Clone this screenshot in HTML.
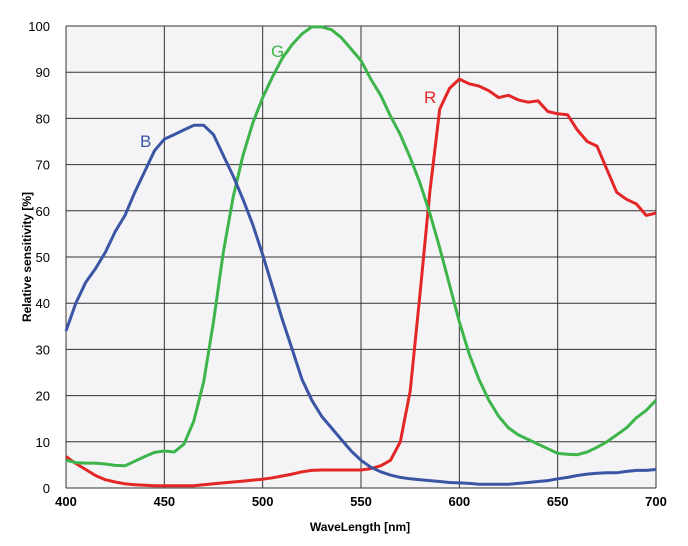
<!DOCTYPE html>
<html><head><meta charset="utf-8"><style>
body{margin:0;background:#fff;font-family:"Liberation Sans",Arial,sans-serif}
svg text{font-family:"Liberation Sans",Arial,sans-serif}
</style></head><body>
<svg id="chart" width="688" height="541" viewBox="0 0 688 541">
<rect x="66" y="26" width="590" height="462" fill="#f4f4f6"/>
<g id="grid"></g><g id="ticks"></g><g id="series"></g>
<text x="140" y="147" font-size="17" fill="#3a55a4">B</text>
<text x="271" y="57" font-size="17" fill="#3db54a">G</text>
<text x="424" y="103" font-size="17" fill="#e32626">R</text>
<text x="360" y="531" font-size="12" font-weight="bold" text-anchor="middle">WaveLength [nm]</text>
<text transform="translate(31,257) rotate(-90)" font-size="12" font-weight="bold" text-anchor="middle">Relative sensitivity [%]</text>
</svg>
<script>
const xTicks=[400,450,500,550,600,650,700];
const yTicks=[0,10,20,30,40,50,60,70,80,90,100];
const wavelengths=[];for(let w=400;w<=700;w+=5)wavelengths.push(w);
const blueValues=[34,40,44.5,47.5,51,55.5,59,64,68.5,73,75.5,76.5,77.5,78.5,78.5,76.5,72,67.5,62.5,57,50.5,43.5,36.5,30,23.5,19,15.5,13,10.5,8,6,4.5,3.5,2.8,2.3,2,1.8,1.6,1.4,1.2,1.1,1,0.8,0.8,0.8,0.8,1,1.2,1.4,1.6,2,2.3,2.7,3,3.2,3.3,3.3,3.6,3.8,3.8,4];
const greenValues=[6,5.5,5.4,5.4,5.2,4.9,4.8,5.8,6.8,7.7,8,7.8,9.5,14.5,23,36,51,63,72,79,84.5,89,93,96,98.3,99.8,99.8,99.2,97.5,95,92.5,88.5,85,80.5,76.5,71.5,66,59.5,52,44,36,29,23.5,19,15.5,13,11.5,10.5,9.5,8.5,7.5,7.3,7.2,7.8,8.8,10,11.5,13,15.2,16.8,19];
const redValues=[6.8,5.3,4,2.7,1.8,1.3,0.9,0.7,0.6,0.5,0.5,0.5,0.5,0.5,0.7,0.9,1.1,1.3,1.5,1.7,1.9,2.2,2.6,3,3.5,3.8,3.9,3.9,3.9,3.9,3.9,4.2,4.8,6,10,21,42,64,82,86.5,88.5,87.5,87,86,84.5,85,84,83.5,83.8,81.5,81,80.8,77.5,75,74,69,64,62.5,61.5,59,59.5];
const NS='http://www.w3.org/2000/svg';
const X0=66,X1=656,Y0=488,Y1=26;
const sx=v=>X0+(v-400)/300*(X1-X0);
const sy=v=>Y0-v/100*(Y0-Y1);
const grid=document.getElementById('grid'),ticks=document.getElementById('ticks'),series=document.getElementById('series');
function mk(tag,attrs,parent){const e=document.createElementNS(NS,tag);for(const k in attrs)e.setAttribute(k,attrs[k]);parent.appendChild(e);return e;}
xTicks.forEach(t=>{
  const l=mk('line',{x1:sx(t),x2:sx(t),y1:Y1,y2:Y0,stroke:'#333','stroke-width':1},grid);
  
  
  const tx=mk('text',{x:sx(t),y:506,'font-size':13,'font-weight':'bold','text-anchor':'middle'},ticks);
  tx.textContent=t;
  
  
});
yTicks.forEach(t=>{
  const l=mk('line',{x1:X0,x2:X1,y1:sy(t),y2:sy(t),stroke:'#333','stroke-width':1},grid);
  
  
  const tx=mk('text',{x:50,y:sy(t)+5,'font-size':13,'text-anchor':'end'},ticks);
  tx.textContent=t;
  
  
});
function line(vals,color,name){
  const d=vals.map((v,i)=>(i?'L':'M')+sx(wavelengths[i]).toFixed(1)+' '+sy(v).toFixed(1)).join(' ');
  const p=mk('path',{d:d,fill:'none',stroke:color,'stroke-width':3,'stroke-linejoin':'round'},series);
  
  
}
line(redValues,'#e32626','red-series');
line(greenValues,'#3db54a','green-series');
line(blueValues,'#3a55a4','blue-series');
</script>
</body></html>
